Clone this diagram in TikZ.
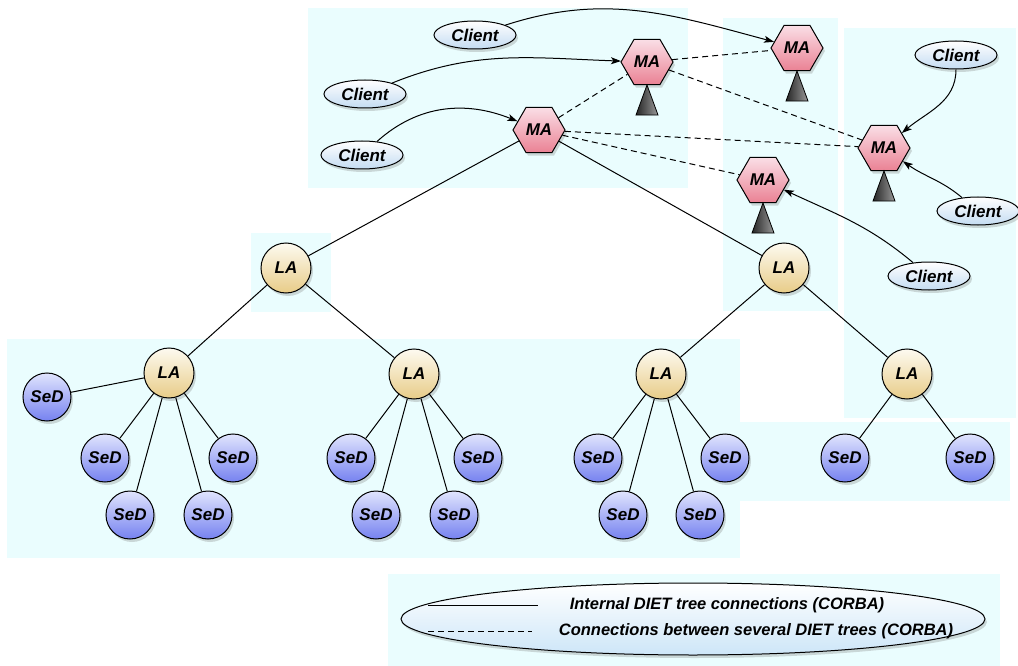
\documentclass[tikz,border=0pt]{standalone}
\usepackage{fontspec}
\setmainfont{Liberation Sans}
\usetikzlibrary{
    shapes.geometric,
    shadows,
    arrows.meta
}

\definecolor{zonecol}{RGB}{234,253,254}
\definecolor{clientcol}{RGB}{196,220,242}
\definecolor{matop}{RGB}{250,222,230}
\definecolor{macol}{RGB}{234,130,148}
\definecolor{latop}{RGB}{253,250,240}
\definecolor{lacol}{RGB}{232,204,136}
\definecolor{sedtop}{RGB}{224,228,253}
\definecolor{sedcol}{RGB}{118,130,240}
\definecolor{legcol}{RGB}{205,230,248}

\tikzset{
    zone/.style={fill=zonecol, draw=none},
    agent/.style={draw, line width=1pt, inner sep=0pt,
        font=\fontsize{17}{20}\selectfont\bfseries\itshape,
        drop shadow={opacity=0.3, shadow xshift=2pt, shadow yshift=-3pt}},
    client/.style={agent, ellipse, minimum width=82pt, minimum height=28pt,
        top color=white, bottom color=clientcol},
    ma/.style={agent, regular polygon, regular polygon sides=6, minimum size=52pt,
        top color=matop, bottom color=macol},
    la/.style={agent, circle, minimum size=50pt, top color=latop, bottom color=lacol},
    sed/.style={agent, circle, minimum size=48pt, top color=sedtop, bottom color=sedcol},
    tree/.style={line width=1pt},
    inter/.style={line width=1pt, dash pattern=on 6pt off 4pt},
    req/.style={line width=1pt, -{Stealth[length=10pt, width=7pt, inset=2.5pt]}},
    tri/.style={draw, line width=0.8pt, left color=black!85, right color=black!40},
    legtext/.style={font=\fontsize{16.5}{19}\selectfont\bfseries\itshape, inner sep=0pt}
}

\begin{document}
\begin{tikzpicture}[x=1pt, y=1pt]
    \useasboundingbox (0,0) rectangle (1018,-666);

    \fill[zone] (308,-8) rectangle (688,-188);
    \fill[zone] (723,-18) rectangle (838,-311);
    \fill[zone] (844,-28) rectangle (1016,-418);
    \fill[zone] (251,-233) rectangle (331,-312);
    \fill[zone] (7,-339) rectangle (740,-558);
    \fill[zone] (740,-422) rectangle (1010,-501);
    \fill[zone] (388,-574) rectangle (1000,-666);

    \node[client] (c1) at (475,-35) {Client};
    \node[client] (c2) at (365,-94) {Client};
    \node[client] (c3) at (362,-155) {Client};
    \node[client] (c4) at (956,-55) {Client};
    \node[client] (c5) at (978,-211) {Client};
    \node[client] (c6) at (929,-276) {Client};

    \node[ma] (ma1) at (647,-62) {MA};
    \node[ma] (ma2) at (539,-130) {MA};
    \node[ma] (ma3) at (797,-48) {MA};
    \node[ma] (ma4) at (884,-148) {MA};
    \node[ma] (ma5) at (763,-180) {MA};

    \draw[tri] (ma1.south) -- ++(11,-30) -- ++(-22,0) -- cycle;
    \draw[tri] (ma3.south) -- ++(11,-30) -- ++(-22,0) -- cycle;
    \draw[tri] (ma4.south) -- ++(11,-30) -- ++(-22,0) -- cycle;
    \draw[tri] (ma5.south) -- ++(11,-30) -- ++(-22,0) -- cycle;

    \node[la] (la1) at (286,-268) {LA};
    \node[la] (la2) at (784,-268) {LA};
    \node[la] (g1) at (169,-373) {LA};
    \node[la] (g2) at (414,-374) {LA};
    \node[la] (g3) at (661,-374) {LA};
    \node[la] (g4) at (907,-374) {LA};

    \node[sed] (s10) at (47,-397) {SeD};
    \node[sed] (s11) at (105,-458) {SeD};
    \node[sed] (s12) at (130,-515) {SeD};
    \node[sed] (s13) at (208,-515) {SeD};
    \node[sed] (s14) at (233,-458) {SeD};
    \node[sed] (s21) at (351,-458) {SeD};
    \node[sed] (s22) at (376,-515) {SeD};
    \node[sed] (s23) at (454,-515) {SeD};
    \node[sed] (s24) at (478,-458) {SeD};
    \node[sed] (s31) at (598,-458) {SeD};
    \node[sed] (s32) at (623,-515) {SeD};
    \node[sed] (s33) at (700,-515) {SeD};
    \node[sed] (s34) at (725,-458) {SeD};
    \node[sed] (s41) at (845,-458) {SeD};
    \node[sed] (s42) at (970,-458) {SeD};

    \draw[tree]
    (ma2) edge (la1)
    (ma2) edge (la2)
    (la1) edge (g1)
    (la1) edge (g2)
    (la2) edge (g3)
    (la2) edge (g4)
    (g1) edge (s10) (g1) edge (s11) (g1) edge (s12) (g1) edge (s13) (g1) edge (s14)
    (g2) edge (s21) (g2) edge (s22) (g2) edge (s23) (g2) edge (s24)
    (g3) edge (s31) (g3) edge (s32) (g3) edge (s33) (g3) edge (s34)
    (g4) edge (s41) (g4) edge (s42);

    \draw[inter]
    (ma2) edge (ma1)
    (ma1) edge (ma3)
    (ma1) edge (ma4)
    (ma2) edge (ma4)
    (ma2) edge (ma5);

    \draw[req] (c1) to[out=18, in=165] (ma3);
    \draw[req] (c2) to[out=22, in=178] (ma1);
    \draw[req] (c3) to[out=42, in=158] (ma2);
    \draw[req] (c4) to[out=-90, in=40] (ma4);
    \draw[req] (c5) to[out=140, in=-35] (ma4);
    \draw[req] (c6) to[out=140, in=-25] (ma5);

    \node[ellipse, draw, line width=1pt, minimum width=584pt, minimum height=72pt,
        top color=white, bottom color=legcol,
        drop shadow={opacity=0.3, shadow xshift=2pt, shadow yshift=-3pt}]
        (leg) at (693,-619) {};
    \coordinate (sl1) at (428,-605);
    \coordinate (sl2) at (538,-605);
    \coordinate (dl1) at (428,-631);
    \coordinate (dl2) at (532,-631);
    \draw[tree] (sl1) -- (sl2);
    \draw[inter] (dl1) -- (dl2);
    \node[legtext] (t1) at (727,-605) {Internal DIET tree connections (CORBA)};
    \node[legtext] (t2) at (756,-631) {Connections between several DIET trees (CORBA)};
\end{tikzpicture}
\end{document}
